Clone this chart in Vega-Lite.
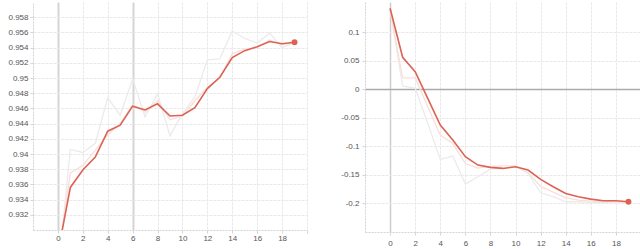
{
"$schema": "https://vega.github.io/schema/vega-lite/v6.json",
"padding": {"left": 7, "top": 2, "right": 0, "bottom": 0},
"spacing": 32,
"bounds": "full",
"config": {
  "view": {"stroke": null},
  "font": "Liberation Sans",
  "axis": {"labelFont": "Liberation Sans", "labelFontSize": 8, "labelColor": "#555555", "title": null, "domainColor": "#d4d4d4", "domainDash": [2, 1], "tickColor": "#d4d4d4", "tickSize": 3}
},
"datasets": {
  "acc": [
    {"s": "gray", "step": 0, "v": 0.9243}, {"s": "gray", "step": 1, "v": 0.9406}, {"s": "gray", "step": 2, "v": 0.9402}, {"s": "gray", "step": 3, "v": 0.9414}, {"s": "gray", "step": 4, "v": 0.9474}, {"s": "gray", "step": 5, "v": 0.9451}, {"s": "gray", "step": 6, "v": 0.9499}, {"s": "gray", "step": 7, "v": 0.9449}, {"s": "gray", "step": 8, "v": 0.9479}, {"s": "gray", "step": 9, "v": 0.9424}, {"s": "gray", "step": 10, "v": 0.9453}, {"s": "gray", "step": 11, "v": 0.9475}, {"s": "gray", "step": 12, "v": 0.9524}, {"s": "gray", "step": 13, "v": 0.9525}, {"s": "gray", "step": 14, "v": 0.9562}, {"s": "gray", "step": 15, "v": 0.9552}, {"s": "gray", "step": 16, "v": 0.9546}, {"s": "gray", "step": 17, "v": 0.9559}, {"s": "gray", "step": 18, "v": 0.9540}, {"s": "gray", "step": 19, "v": 0.9547},
    {"s": "pink", "step": 0, "v": 0.926}, {"s": "pink", "step": 1, "v": 0.9375}, {"s": "pink", "step": 2, "v": 0.9385}, {"s": "pink", "step": 3, "v": 0.9405}, {"s": "pink", "step": 4, "v": 0.9425}, {"s": "pink", "step": 5, "v": 0.944}, {"s": "pink", "step": 6, "v": 0.9465}, {"s": "pink", "step": 7, "v": 0.9455}, {"s": "pink", "step": 8, "v": 0.947}, {"s": "pink", "step": 9, "v": 0.9445}, {"s": "pink", "step": 10, "v": 0.945}, {"s": "pink", "step": 11, "v": 0.947}, {"s": "pink", "step": 12, "v": 0.9488}, {"s": "pink", "step": 13, "v": 0.95}, {"s": "pink", "step": 14, "v": 0.9532}, {"s": "pink", "step": 15, "v": 0.9538}, {"s": "pink", "step": 16, "v": 0.954}, {"s": "pink", "step": 17, "v": 0.955}, {"s": "pink", "step": 18, "v": 0.9544}, {"s": "pink", "step": 19, "v": 0.9547},
    {"s": "red", "step": 0, "v": 0.927}, {"s": "red", "step": 1, "v": 0.9356}, {"s": "red", "step": 2, "v": 0.9379}, {"s": "red", "step": 3, "v": 0.9396}, {"s": "red", "step": 4, "v": 0.943}, {"s": "red", "step": 5, "v": 0.9438}, {"s": "red", "step": 6, "v": 0.9463}, {"s": "red", "step": 7, "v": 0.9458}, {"s": "red", "step": 8, "v": 0.9466}, {"s": "red", "step": 9, "v": 0.945}, {"s": "red", "step": 10, "v": 0.9451}, {"s": "red", "step": 11, "v": 0.9461}, {"s": "red", "step": 12, "v": 0.9486}, {"s": "red", "step": 13, "v": 0.9501}, {"s": "red", "step": 14, "v": 0.9527}, {"s": "red", "step": 15, "v": 0.9536}, {"s": "red", "step": 16, "v": 0.9541}, {"s": "red", "step": 17, "v": 0.9548}, {"s": "red", "step": 18, "v": 0.9545}, {"s": "red", "step": 19, "v": 0.9547}
  ],
  "loss": [
    {"s": "gray", "step": 0, "v": 0.139}, {"s": "gray", "step": 1, "v": 0.0058}, {"s": "gray", "step": 2, "v": 0.0018}, {"s": "gray", "step": 3, "v": -0.0596}, {"s": "gray", "step": 4, "v": -0.1228}, {"s": "gray", "step": 5, "v": -0.117}, {"s": "gray", "step": 6, "v": -0.166}, {"s": "gray", "step": 7, "v": -0.1532}, {"s": "gray", "step": 8, "v": -0.14}, {"s": "gray", "step": 9, "v": -0.1386}, {"s": "gray", "step": 10, "v": -0.1345}, {"s": "gray", "step": 11, "v": -0.147}, {"s": "gray", "step": 12, "v": -0.1813}, {"s": "gray", "step": 13, "v": -0.188}, {"s": "gray", "step": 14, "v": -0.197}, {"s": "gray", "step": 15, "v": -0.197}, {"s": "gray", "step": 16, "v": -0.198}, {"s": "gray", "step": 17, "v": -0.198}, {"s": "gray", "step": 18, "v": -0.197}, {"s": "gray", "step": 19, "v": -0.197},
    {"s": "pink", "step": 0, "v": 0.14}, {"s": "pink", "step": 1, "v": 0.02}, {"s": "pink", "step": 2, "v": 0.02}, {"s": "pink", "step": 3, "v": -0.03}, {"s": "pink", "step": 4, "v": -0.08}, {"s": "pink", "step": 5, "v": -0.095}, {"s": "pink", "step": 6, "v": -0.13}, {"s": "pink", "step": 7, "v": -0.138}, {"s": "pink", "step": 8, "v": -0.135}, {"s": "pink", "step": 9, "v": -0.134}, {"s": "pink", "step": 10, "v": -0.134}, {"s": "pink", "step": 11, "v": -0.146}, {"s": "pink", "step": 12, "v": -0.17}, {"s": "pink", "step": 13, "v": -0.18}, {"s": "pink", "step": 14, "v": -0.19}, {"s": "pink", "step": 15, "v": -0.194}, {"s": "pink", "step": 16, "v": -0.196}, {"s": "pink", "step": 17, "v": -0.197}, {"s": "pink", "step": 18, "v": -0.197}, {"s": "pink", "step": 19, "v": -0.197},
    {"s": "red", "step": 0, "v": 0.1421}, {"s": "red", "step": 1, "v": 0.0561}, {"s": "red", "step": 2, "v": 0.031}, {"s": "red", "step": 3, "v": -0.0158}, {"s": "red", "step": 4, "v": -0.0626}, {"s": "red", "step": 5, "v": -0.0889}, {"s": "red", "step": 6, "v": -0.1181}, {"s": "red", "step": 7, "v": -0.1327}, {"s": "red", "step": 8, "v": -0.1368}, {"s": "red", "step": 9, "v": -0.1386}, {"s": "red", "step": 10, "v": -0.1357}, {"s": "red", "step": 11, "v": -0.1415}, {"s": "red", "step": 12, "v": -0.1579}, {"s": "red", "step": 13, "v": -0.1708}, {"s": "red", "step": 14, "v": -0.1825}, {"s": "red", "step": 15, "v": -0.1883}, {"s": "red", "step": 16, "v": -0.1924}, {"s": "red", "step": 17, "v": -0.1953}, {"s": "red", "step": 18, "v": -0.1953}, {"s": "red", "step": 19, "v": -0.1971}
  ]
},
"hconcat": [
  {
    "width": 274, "height": 228,
    "data": {"name": "acc"},
    "encoding": {
      "x": {"field": "step", "type": "quantitative", "scale": {"domain": [-2, 20], "nice": false, "zero": false},
        "axis": {"values": [0, 2, 4, 6, 8, 10, 12, 14, 16, 18, 20], "labelExpr": "datum.value == 20 ? '' : datum.label", "labelPadding": 1,
          "gridColor": {"condition": {"test": "datum.value === 0 || datum.value === 6", "value": "#d4d4d4"}, "value": "#e9e9e9"},
          "gridWidth": {"condition": {"test": "datum.value === 0 || datum.value === 6", "value": 2}, "value": 1},
          "gridDash": {"condition": {"test": "datum.value === 0 || datum.value === 6", "value": []}, "value": [3, 1]}}},
      "y": {"field": "v", "type": "quantitative", "scale": {"domain": [0.93, 0.96], "nice": false, "zero": false},
        "axis": {"values": [0.932, 0.934, 0.936, 0.938, 0.94, 0.942, 0.944, 0.946, 0.948, 0.95, 0.952, 0.954, 0.956, 0.958], "format": ".3~f", "labelPadding": 2, "gridColor": "#e9e9e9", "gridDash": [3, 1]}}
    },
    "layer": [
      {"transform": [{"filter": "datum.s == 'gray'"}], "mark": {"type": "line", "color": "#ebebeb", "strokeWidth": 1.3, "clip": true}},
      {"transform": [{"filter": "datum.s == 'pink'"}], "mark": {"type": "line", "color": "#f9dfda", "strokeWidth": 1.3, "clip": true}},
      {"transform": [{"filter": "datum.s == 'red'"}], "mark": {"type": "line", "color": "#dc6354", "strokeWidth": 1.6, "clip": true}},
      {"transform": [{"filter": "datum.s == 'red' && datum.step == 19"}], "mark": {"type": "point", "filled": true, "color": "#dc6354", "size": 35, "opacity": 1}}
    ]
  },
  {
    "width": 276, "height": 230,
    "data": {"name": "loss"},
    "encoding": {
      "x": {"field": "step", "type": "quantitative", "scale": {"domain": [-2, 20], "nice": false, "zero": false},
        "axis": {"values": [0, 2, 4, 6, 8, 10, 12, 14, 16, 18, 20], "labelExpr": "datum.value == 20 ? '' : datum.label", "labelPadding": 4,
          "gridColor": {"condition": {"test": "datum.value === 0", "value": "#cccccc"}, "value": "#e9e9e9"},
          "gridWidth": {"condition": {"test": "datum.value === 0", "value": 1.5}, "value": 1},
          "gridDash": {"condition": {"test": "datum.value === 0", "value": []}, "value": [3, 1]}}},
      "y": {"field": "v", "type": "quantitative", "scale": {"domain": [-0.25, 0.153], "nice": false, "zero": false},
        "axis": {"values": [-0.2, -0.15, -0.1, -0.05, 0, 0.05, 0.1], "format": ".2~f", "labelExpr": "replace(datum.label, '\u2212', '-')", "labelPadding": 3,
          "gridColor": {"condition": {"test": "datum.value === 0", "value": "#aaaaaa"}, "value": "#e9e9e9"},
          "gridWidth": {"condition": {"test": "datum.value === 0", "value": 1.5}, "value": 1},
          "gridDash": {"condition": {"test": "datum.value === 0", "value": []}, "value": [3, 1]}}}
    },
    "layer": [
      {"transform": [{"filter": "datum.s == 'gray'"}], "mark": {"type": "line", "color": "#ebebeb", "strokeWidth": 1.3, "clip": true}},
      {"transform": [{"filter": "datum.s == 'pink'"}], "mark": {"type": "line", "color": "#f9dfda", "strokeWidth": 1.3, "clip": true}},
      {"transform": [{"filter": "datum.s == 'red'"}], "mark": {"type": "line", "color": "#dc6354", "strokeWidth": 1.6, "clip": true}},
      {"transform": [{"filter": "datum.s == 'red' && datum.step == 19"}], "mark": {"type": "point", "filled": true, "color": "#dc6354", "size": 35, "opacity": 1}}
    ]
  }
]
}
